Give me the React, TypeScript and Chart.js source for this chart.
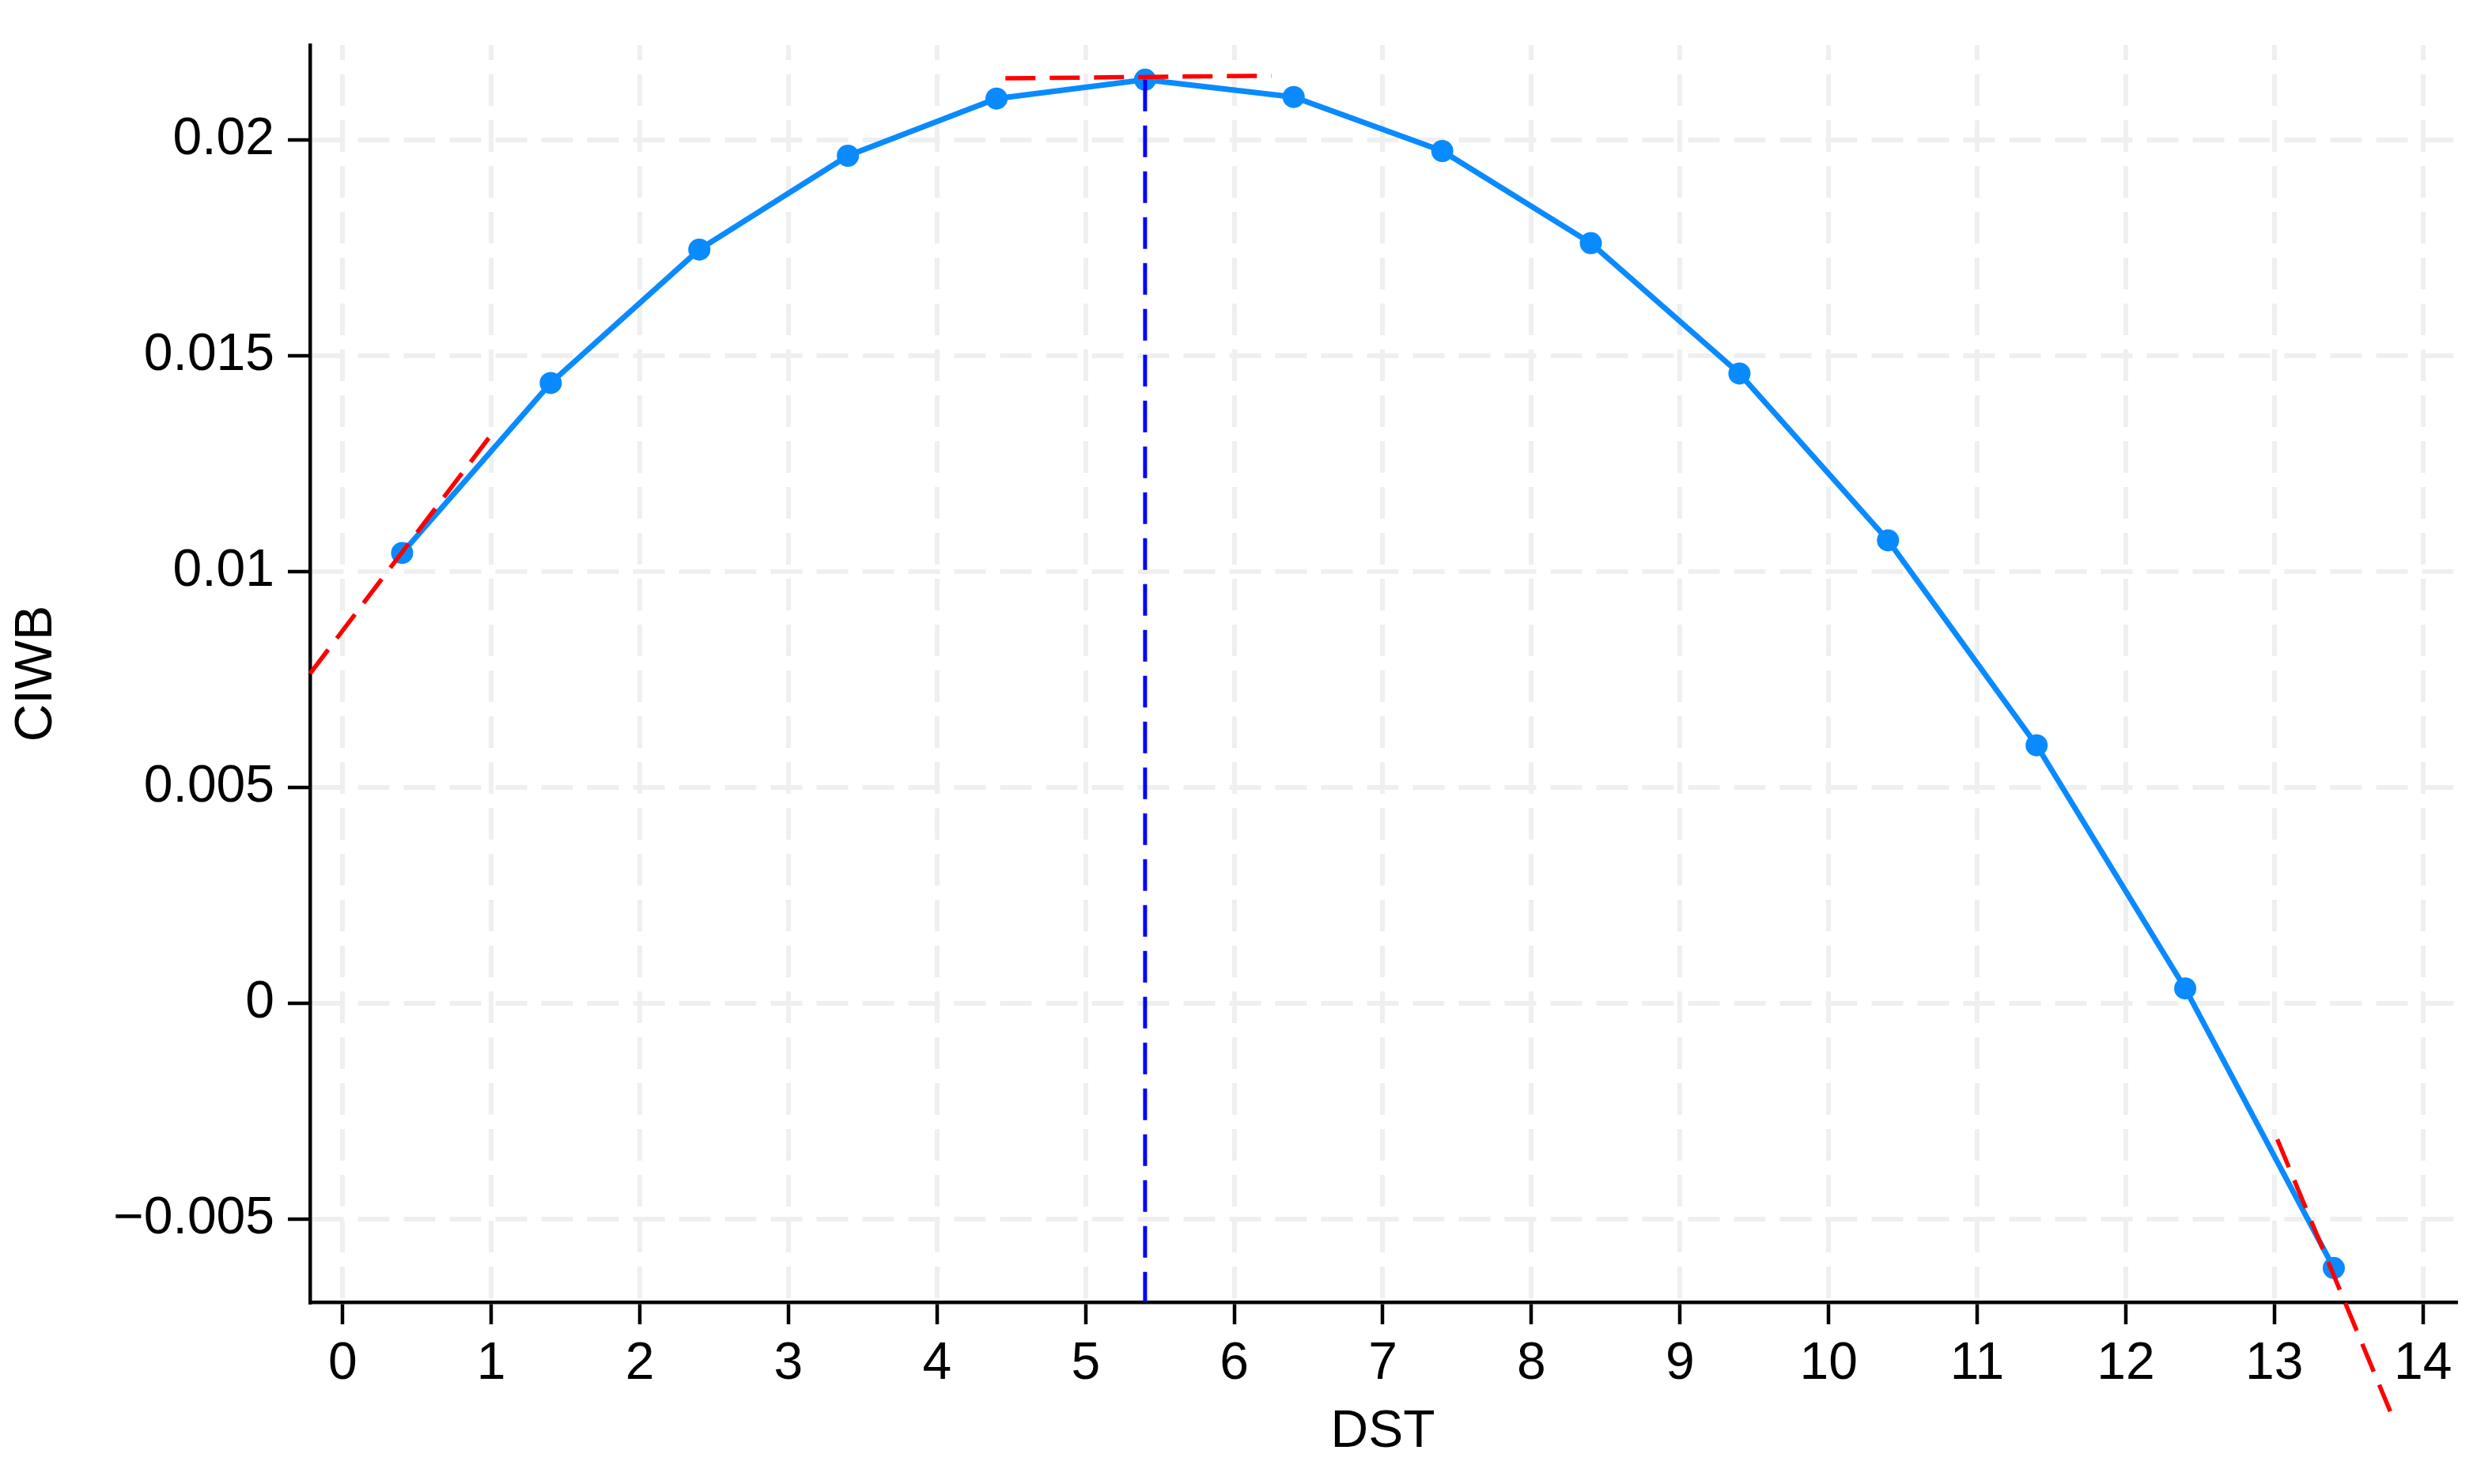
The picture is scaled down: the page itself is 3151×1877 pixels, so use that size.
import React, { useEffect, useRef } from 'react';
import { Chart, registerables } from 'chart.js';

Chart.register(...registerables);

// ---- data ----
const dstValues = [0.4, 1.4, 2.4, 3.4, 4.4, 5.4, 6.4, 7.4, 8.4, 9.4, 10.4, 11.4, 12.4, 13.4];
const ciwbValues = [
  0.010434, 0.014372, 0.017463, 0.019636, 0.02096, 0.021398, 0.020997,
  0.019746, 0.01761, 0.014592, 0.010727, 0.00598, 0.000348, -0.00613,
];

const xTickValues = [0, 1, 2, 3, 4, 5, 6, 7, 8, 9, 10, 11, 12, 13, 14];
const xTickLabels = ['0', '1', '2', '3', '4', '5', '6', '7', '8', '9', '10', '11', '12', '13', '14'];
const yTickValues = [-0.005, 0, 0.005, 0.01, 0.015, 0.02];
const yTickLabels = ['\u22120.005', '0', '0.005', '0.01', '0.015', '0.02'];

const tangentLeftX = [-0.22, 1.01];
const tangentLeftY = [0.00764, 0.01322];
const tangentTopX = [4.46, 6.25];
const tangentTopY = [0.02143, 0.02149];
const tangentRightX = [13.02, 13.78];
const tangentRightY = [-0.00315, -0.00945];
const peakLineX = [5.4, 5.4];
const peakLineY = [0.021398, -0.00692];

const xMin = -0.22;
const xMax = 14.22;
const yMin = -0.00692;
const yMax = 0.0222;

const FONT = '"Liberation Sans", Arial, Helvetica, sans-serif';
const BLUE = '#0a8aff';

const pts = (xs: number[], ys: number[]) => xs.map((x, i) => ({ x, y: ys[i] }));

export default function App() {
  const canvasRef = useRef<HTMLCanvasElement | null>(null);

  useEffect(() => {
    if (!canvasRef.current) return;
    const tangentStyle = {
      borderColor: '#ff0000',
      backgroundColor: '#ff0000',
      borderWidth: 5.5,
      borderDash: [38, 18],
      pointRadius: 0,
      fill: false,
      tension: 0,
      clip: false as any,
    };
    const chart = new Chart(canvasRef.current, {
      type: 'line',
      data: {
        datasets: [
          { ...tangentStyle, data: pts(tangentLeftX, tangentLeftY) } as any,
          { ...tangentStyle, data: pts(tangentTopX, tangentTopY) } as any,
          { ...tangentStyle, data: pts(tangentRightX, tangentRightY) } as any,
          {
            data: pts(peakLineX, peakLineY),
            borderColor: '#0000ff',
            borderWidth: 5,
            borderDash: [40, 18],
            pointRadius: 0,
            fill: false,
          } as any,
          {
            data: pts(dstValues, ciwbValues),
            borderColor: BLUE,
            backgroundColor: BLUE,
            borderWidth: 7,
            pointRadius: 14,
            pointBorderWidth: 0,
            pointBackgroundColor: BLUE,
            fill: false,
            tension: 0,
          } as any,
        ],
      },
      options: {
        responsive: false,
        animation: false,
        devicePixelRatio: 1,
        layout: { padding: { top: 57, right: 46, left: 0, bottom: 0 } },
        plugins: { legend: { display: false }, tooltip: { enabled: false } },
        scales: {
          x: {
            type: 'linear',
            min: xMin,
            max: xMax,
            afterBuildTicks: (scale: any) => {
              scale.ticks = xTickValues.map((v) => ({ value: v }));
            },
            afterFit: (scale: any) => {
              scale.height = 230;
            },
            ticks: {
              callback: (_v: any, i: number) => xTickLabels[i],
              font: { family: FONT, size: 66 },
              color: '#000',
              padding: 11,
              maxRotation: 0,
              autoSkip: false,
            },
            grid: {
              color: '#efefef',
              lineWidth: 6,
              tickColor: '#000',
              tickWidth: 4.5,
              tickLength: 28,
            },
            border: { display: true, color: '#000', width: 4.5, dash: [40, 18], dashOffset: 21 },
            title: {
              display: true,
              text: 'DST',
              font: { family: FONT, size: 66 },
              color: '#000',
              padding: { top: 0, bottom: 26 },
            },
          },
          y: {
            type: 'linear',
            min: yMin,
            max: yMax,
            afterBuildTicks: (scale: any) => {
              scale.ticks = yTickValues.map((v) => ({ value: v }));
            },
            afterFit: (scale: any) => {
              scale.width = 392;
            },
            ticks: {
              callback: (_v: any, i: number) => yTickLabels[i],
              font: { family: FONT, size: 66 },
              color: '#000',
              padding: 17,
              autoSkip: false,
            },
            grid: {
              color: '#efefef',
              lineWidth: 6,
              tickColor: '#000',
              tickWidth: 4.5,
              tickLength: 28,
            },
            border: { display: true, color: '#000', width: 4.5, dash: [40, 18], dashOffset: 0 },
            title: {
              display: true,
              text: 'CIWB',
              font: { family: FONT, size: 66 },
              color: '#000',
              padding: { top: 7, bottom: 0 },
            },
          },
        },
      } as any,
    });
    return () => chart.destroy();
  }, []);

  return (
    <div style={{ position: 'fixed', left: 0, top: 0, width: 3151, height: 1877, background: '#fff' }}>
      <canvas ref={canvasRef} width={3151} height={1877} style={{ display: 'block', width: 3151, height: 1877 }} />
    </div>
  );
}
